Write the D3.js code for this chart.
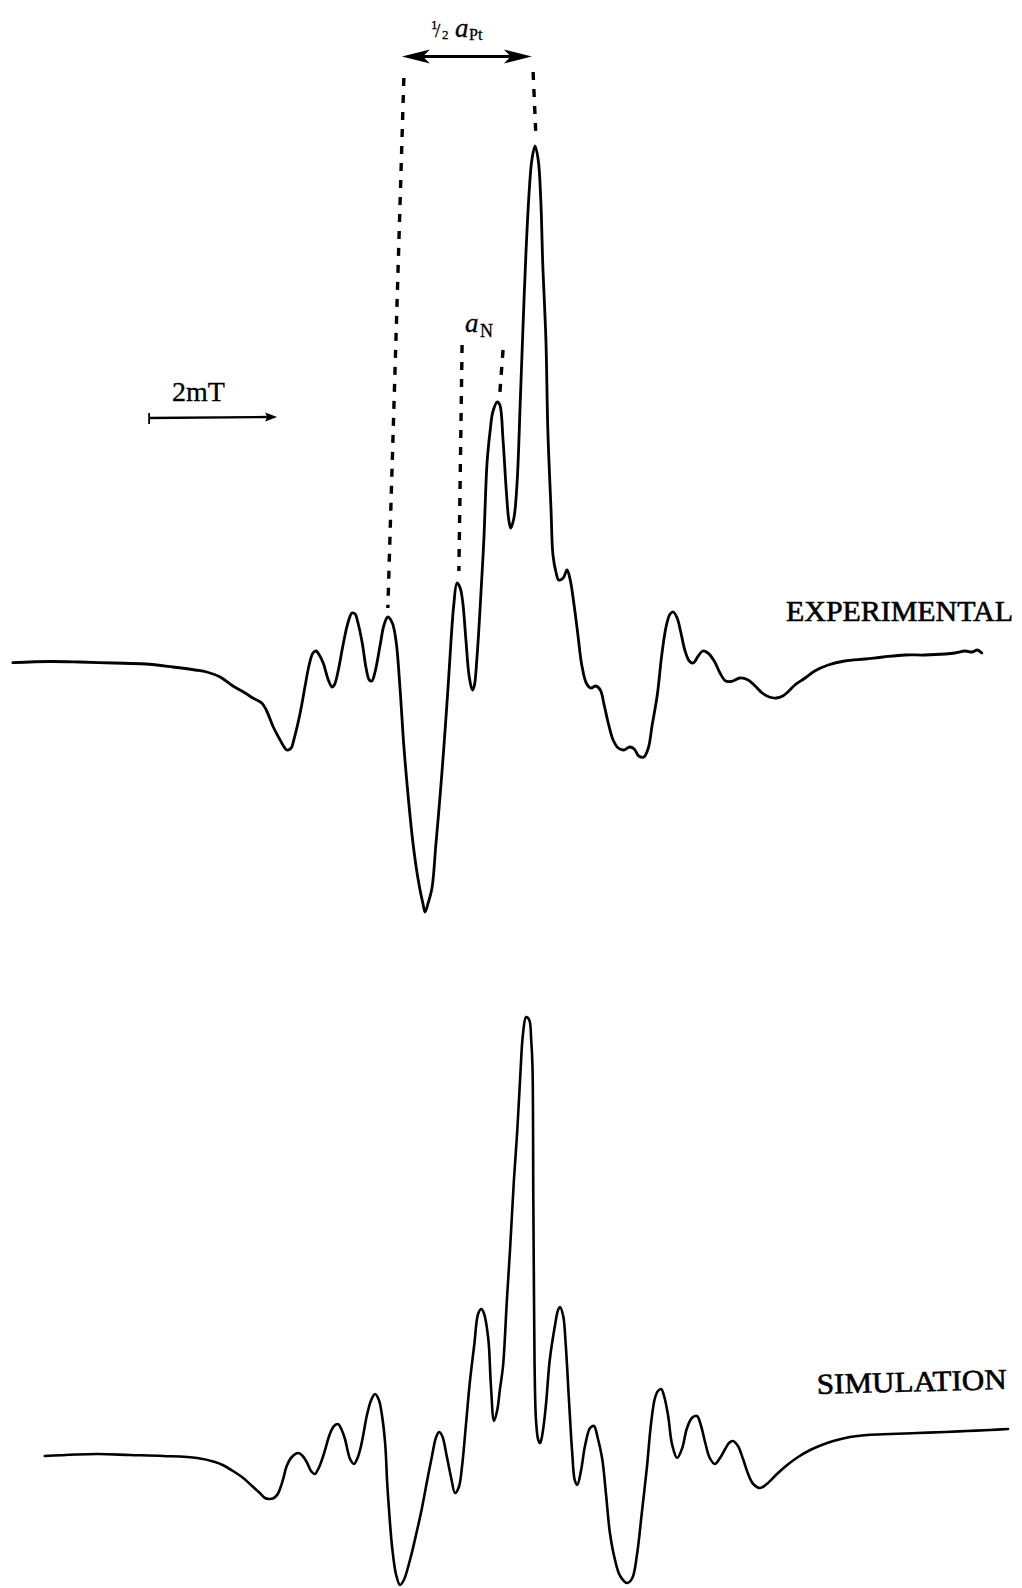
<!DOCTYPE html>
<html>
<head>
<meta charset="utf-8">
<script src="https://cdn.jsdelivr.net/npm/d3@7"></script>
<style>
  html, body { margin: 0; padding: 0; background: #fff; }
  svg { display: block; }
  text { font-family: "Liberation Serif", "Times New Roman", serif; fill: #000; }
</style>
</head>
<body>
<svg id="chart" width="1022" height="1588"></svg>
<script>
// EPR spectra: magnetic field (mT) against first-derivative signal (arbitrary units)

const experimental = [
  [0.20,-0.27],[0.78,-0.15],[1.25,-0.2],[1.77,-0.3],[2.27,-0.4],[2.70,-0.7],[3.05,-1.0],[3.23,-1.2],
  [3.44,-1.7],[3.64,-2.6],[3.83,-3.3],[3.95,-3.8],[4.09,-4.3],[4.16,-5.0],[4.27,-6.7],[4.36,-7.8],
  [4.44,-8.7],[4.48,-9.0],[4.55,-8.8],[4.59,-8.0],[4.69,-5.3],[4.77,-2.5],[4.83,-0.5],[4.89,0.7],
  [4.94,0.9],[4.98,0.6],[5.05,-0.3],[5.13,-2.0],[5.19,-2.7],[5.23,-2.4],[5.28,-1.2],[5.36,1.5],
  [5.44,3.8],[5.50,4.7],[5.55,4.6],[5.59,3.8],[5.66,1.7],[5.72,-0.8],[5.77,-2.0],[5.81,-2.1],
  [5.86,-1.2],[5.94,1.5],[6.00,3.5],[6.06,4.3],[6.13,3.7],[6.19,1.8],[6.25,-2.8],[6.31,-8.6],
  [6.38,-13.8],[6.44,-17.6],[6.50,-20.6],[6.56,-22.9],[6.61,-24.4],[6.64,-25.2],[6.69,-24.3],[6.75,-22.8],
  [6.81,-18.5],[6.88,-13.3],[6.94,-8.3],[7.00,-2.8],[7.05,2.2],[7.09,5.5],[7.14,7.7],[7.19,7.2],
  [7.23,5.8],[7.28,2.0],[7.33,-1.6],[7.38,-3.0],[7.41,-2.6],[7.45,0.0],[7.50,5.0],[7.56,12.0],
  [7.61,19.7],[7.66,23.0],[7.70,24.8],[7.77,25.8],[7.81,25.5],[7.86,22.0],[7.91,17.0],[7.95,14.0],
  [7.98,13.2],[8.03,14.2],[8.08,17.8],[8.13,26.0],[8.17,33.0],[8.22,41.0],[8.27,47.0],[8.31,50.0],
  [8.36,51.4],[8.41,50.0],[8.45,46.0],[8.48,39.7],[8.53,32.0],[8.56,23.0],[8.61,15.0],[8.64,10.5],
  [8.69,8.7],[8.73,8.0],[8.80,8.2],[8.86,9.0],[8.91,8.0],[8.97,5.5],[9.03,2.5],[9.09,-0.5],
  [9.16,-2.3],[9.23,-2.8],[9.31,-2.6],[9.38,-3.0],[9.44,-4.5],[9.50,-6.2],[9.58,-8.0],[9.66,-8.8],
  [9.75,-9.0],[9.84,-8.7],[9.91,-8.9],[9.98,-9.6],[10.06,-9.7],[10.13,-8.8],[10.19,-6.5],[10.27,-3.5],
  [10.34,0.5],[10.41,3.4],[10.47,4.6],[10.52,4.8],[10.58,4.2],[10.64,2.7],[10.70,1.0],[10.77,-0.1],
  [10.83,-0.3],[10.91,0.4],[10.98,0.9],[11.06,0.7],[11.16,-0.1],[11.25,-1.3],[11.34,-2.1],[11.45,-2.1],
  [11.56,-1.8],[11.69,-2.0],[11.80,-2.6],[11.91,-3.3],[12.02,-3.7],[12.13,-3.8],[12.23,-3.6],[12.31,-3.2],
  [12.42,-2.5],[12.58,-1.8],[12.73,-1.1],[12.94,-0.5],[13.20,-0.1],[13.52,0.1],[13.80,0.3],[14.14,0.5],
  [14.45,0.5],[14.77,0.6],[14.92,0.7],[15.08,0.9],[15.19,0.8],[15.27,1.0],[15.34,0.7]
];

const simulation = [
  [0.70,0.0],[1.52,0.2],[2.03,0.1],[2.55,0.0],[3.08,-0.2],[3.36,-0.6],[3.48,-0.9],[3.64,-1.5],
  [3.80,-2.2],[3.94,-3.0],[4.06,-3.7],[4.14,-4.2],[4.20,-4.3],[4.28,-4.2],[4.34,-3.8],[4.42,-2.4],
  [4.48,-1.0],[4.56,-0.1],[4.66,0.3],[4.73,0.0],[4.80,-0.7],[4.86,-1.5],[4.92,-1.8],[4.98,-1.2],
  [5.05,0.0],[5.16,2.3],[5.22,3.0],[5.28,3.2],[5.34,2.6],[5.39,1.7],[5.47,-0.3],[5.53,-0.8],
  [5.58,-0.3],[5.63,0.7],[5.69,2.6],[5.73,4.0],[5.80,5.6],[5.86,6.2],[5.92,5.6],[5.97,4.0],
  [6.02,1.1],[6.05,-2.7],[6.09,-6.4],[6.13,-9.3],[6.19,-11.9],[6.25,-12.9],[6.31,-12.4],[6.41,-10.3],
  [6.50,-7.9],[6.59,-5.3],[6.67,-2.6],[6.75,0.0],[6.81,1.8],[6.86,2.4],[6.91,2.0],[6.98,0.0],
  [7.05,-2.2],[7.11,-3.7],[7.17,-3.1],[7.22,-1.0],[7.28,3.1],[7.34,7.3],[7.41,11.1],[7.47,14.2],
  [7.52,14.7],[7.56,14.3],[7.63,11.7],[7.67,7.1],[7.72,3.5],[7.77,4.6],[7.81,6.6],[7.86,9.0],
  [7.92,15.6],[7.97,20.7],[8.03,27.6],[8.08,32.3],[8.13,38.1],[8.17,42.1],[8.22,43.9],[8.27,43.6],
  [8.30,41.6],[8.320,39.0],[8.333,25.7],[8.344,15.6],[8.353,9.0],[8.375,3.6],[8.41,1.6],[8.44,1.3],
  [8.48,2.4],[8.53,5.1],[8.59,9.6],[8.67,13.0],[8.72,14.6],[8.75,14.9],[8.80,14.0],[8.84,11.1],
  [8.89,5.6],[8.94,0.4],[8.98,-2.4],[9.02,-2.9],[9.08,-1.4],[9.14,1.0],[9.22,2.8],[9.28,3.0],
  [9.34,1.8],[9.41,-0.3],[9.47,-3.9],[9.53,-7.7],[9.61,-10.4],[9.69,-12.0],[9.80,-12.7],[9.88,-12.2],
  [9.95,-10.0],[10.03,-5.6],[10.11,-1.0],[10.17,3.1],[10.23,5.7],[10.28,6.5],[10.33,6.7],[10.38,5.9],
  [10.44,4.0],[10.50,1.2],[10.58,-0.2],[10.66,0.8],[10.73,2.7],[10.81,3.8],[10.89,4.0],[10.95,3.1],
  [11.02,1.3],[11.09,-0.2],[11.17,-0.8],[11.25,-0.2],[11.33,0.7],[11.39,1.3],[11.45,1.5],[11.53,1.0],
  [11.61,-0.3],[11.69,-1.8],[11.77,-2.8],[11.88,-3.2],[11.98,-2.8],[12.14,-1.8],[12.30,-0.9],[12.47,-0.1],
  [12.66,0.6],[12.84,1.1],[13.02,1.5],[13.28,1.9],[13.55,2.1],[13.91,2.2],[14.33,2.3],[14.77,2.4],
  [15.11,2.5],[15.47,2.6],[15.75,2.7]
];

const traceLabels = ["EXPERIMENTAL", "SIMULATION"];

// Hyperfine guides on the experimental trace, [field, signal] ends
const platinumGuides = [
  { top: [6.31, 58.2], bottom: [6.06, 5.2] },
  { top: [8.33, 58.8], bottom: [8.375, 52.2] }
];
const nitrogenGuides = [
  { top: [7.22, 31.5], bottom: [7.17, 8.9] },
  { top: [7.86, 31.0], bottom: [7.81, 26.7] }
];
const platinumSpan = { from: 6.28, to: 8.31, level: 60.35 };

const fieldBar = { start: 2.33, span: 2, label: "2mT" };

const svg = d3.select("#chart");
svg.append("rect").attr("width", 1022).attr("height", 1588).attr("fill", "#fff");

const x = d3.scaleLinear().domain([0, 16]).range([0, 1024]);
const yExp = d3.scaleLinear().domain([0, 10]).range([660, 560]);
const ySim = d3.scaleLinear().domain([0, 10]).range([1456, 1356]);

const smooth = d3.curveCatmullRom.alpha(0.5);
const lineExp = d3.line().x(d => x(d[0])).y(d => yExp(d[1])).curve(smooth);
const lineSim = d3.line().x(d => x(d[0])).y(d => ySim(d[1])).curve(smooth);

svg.append("path").datum(experimental)
  .attr("d", lineExp)
  .attr("fill", "none").attr("stroke", "#000")
  .attr("stroke-width", 2.8).attr("stroke-linejoin", "round").attr("stroke-linecap", "round");

svg.append("path").datum(simulation)
  .attr("d", lineSim)
  .attr("fill", "none").attr("stroke", "#000")
  .attr("stroke-width", 2.6).attr("stroke-linejoin", "round").attr("stroke-linecap", "round");

// dashed guide lines
const guides = svg.append("g")
  .attr("stroke", "#000").attr("stroke-width", 3.4)
  .attr("stroke-dasharray", "8 9").attr("fill", "none");
platinumGuides.concat(nitrogenGuides).forEach(g => {
  guides.append("line")
    .attr("x1", x(g.top[0])).attr("y1", yExp(g.top[1]))
    .attr("x2", x(g.bottom[0])).attr("y2", yExp(g.bottom[1]));
});

// double-headed arrow for the Pt splitting
function head(sel, tipX, tipY, dir, len, half, notch) {
  const p = d3.path();
  p.moveTo(tipX, tipY);
  p.lineTo(tipX - dir * len, tipY - half);
  p.lineTo(tipX - dir * (len - notch), tipY);
  p.lineTo(tipX - dir * len, tipY + half);
  p.closePath();
  sel.append("path").attr("d", p.toString()).attr("fill", "#000");
}
const ax1 = x(platinumSpan.from), ax2 = x(platinumSpan.to), ay = yExp(platinumSpan.level);
svg.append("line")
  .attr("x1", ax1 + 10).attr("x2", ax2 - 10).attr("y1", ay).attr("y2", ay)
  .attr("stroke", "#000").attr("stroke-width", 3);
head(svg, ax1, ay, -1, 28, 7, 7);
head(svg, ax2, ay, 1, 28, 7, 7);

// ½ a_Pt label
const lp = svg.append("g").attr("stroke", "#000").attr("stroke-width", 0.3);
lp.append("text").attr("x", 431).attr("y", 29).attr("font-size", 13).text("1");
lp.append("text").attr("x", 435).attr("y", 37).attr("font-size", 19).text("/");
lp.append("text").attr("x", 442).attr("y", 39).attr("font-size", 13).text("2");
lp.append("text").attr("x", 455).attr("y", 37).attr("font-size", 27).attr("font-style", "italic").text("a");
lp.append("text").attr("x", 469).attr("y", 40).attr("font-size", 16).text("Pt");

// a_N label
const ln = svg.append("g").attr("stroke", "#000").attr("stroke-width", 0.3);
ln.append("text").attr("x", 465).attr("y", 332).attr("font-size", 27).attr("font-style", "italic").text("a");
ln.append("text").attr("x", 480).attr("y", 337).attr("font-size", 18).text("N");

// field scale bar
const bx1 = x(fieldBar.start), bx2 = x(fieldBar.start + fieldBar.span), by = 418;
svg.append("line").attr("x1", bx1).attr("x2", bx2 - 8).attr("y1", by).attr("y2", by - 1)
  .attr("stroke", "#000").attr("stroke-width", 2.4);
svg.append("line").attr("x1", bx1).attr("x2", bx1).attr("y1", by - 5).attr("y2", by + 6)
  .attr("stroke", "#000").attr("stroke-width", 1.8);
head(svg, bx2, by - 1, 1, 12, 4.5, 2);
svg.append("text").attr("x", 172).attr("y", 401).attr("font-size", 28)
  .attr("stroke", "#000").attr("stroke-width", 0.3).text(fieldBar.label);

// trace labels
svg.append("text").attr("x", 786).attr("y", 621).attr("font-size", 29)
  .attr("stroke", "#000").attr("stroke-width", 0.6)
  .attr("textLength", 227).attr("lengthAdjust", "spacingAndGlyphs").text(traceLabels[0]);
svg.append("text").attr("x", 817).attr("y", 1394).attr("font-size", 29)
  .attr("stroke", "#000").attr("stroke-width", 0.6)
  .attr("textLength", 190).attr("lengthAdjust", "spacingAndGlyphs")
  .attr("transform", "rotate(-1.5 817 1394)").text(traceLabels[1]);
</script>
</body>
</html>
